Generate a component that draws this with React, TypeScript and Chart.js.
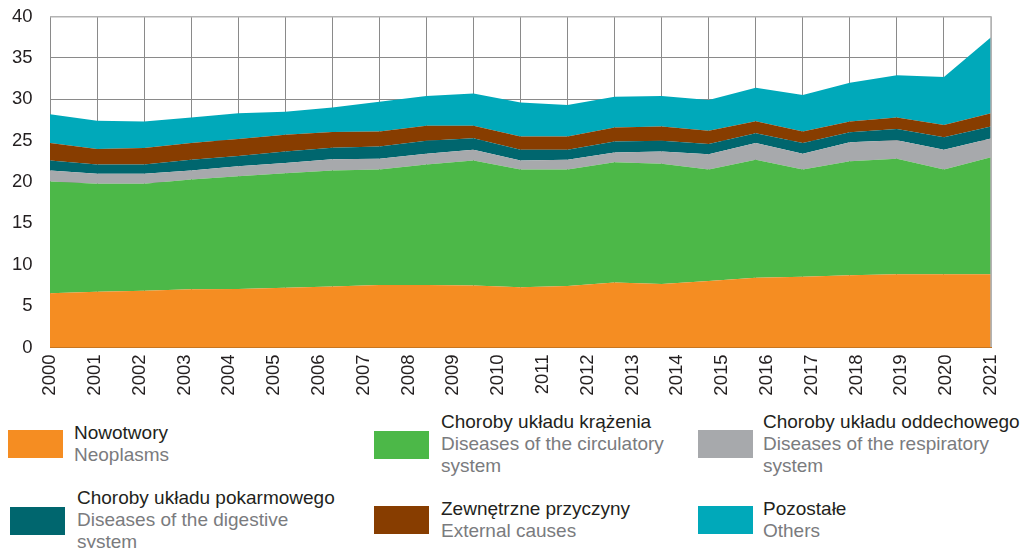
import React, { useEffect, useRef } from "react";
import { Chart, registerables } from "chart.js";

Chart.register(...registerables);

// Tick labels along the bottom axis (22 labels spread over the full axis)
const yearLabels = [
  "2000", "2001", "2002", "2003", "2004", "2005", "2006", "2007", "2008", "2009", "2010",
  "2011", "2012", "2013", "2014", "2015", "2016", "2017", "2018", "2019", "2020", "2021",
];

// Series values at the 21 nodes of the area chart (stacked, bottom to top)
const neoplasms = [6.55, 6.75, 6.87, 7.03, 7.07, 7.23, 7.38, 7.55, 7.55, 7.5, 7.28, 7.44, 7.84, 7.68, 8.04, 8.44, 8.56, 8.73, 8.85, 8.85, 8.85];
const circulatory = [13.5, 13.05, 12.93, 13.27, 13.63, 13.82, 14.02, 13.95, 14.55, 15.1, 14.22, 14.06, 14.56, 14.52, 13.46, 14.26, 12.94, 13.77, 13.95, 12.65, 14.15];
const respiratory = [1.35, 1.2, 1.2, 1.1, 1.2, 1.25, 1.35, 1.3, 1.3, 1.3, 1.1, 1.2, 1.15, 1.5, 1.85, 2.0, 1.9, 2.3, 2.25, 2.4, 2.25];
const digestive = [1.2, 1.1, 1.1, 1.3, 1.25, 1.4, 1.4, 1.5, 1.6, 1.4, 1.3, 1.2, 1.35, 1.3, 1.25, 1.2, 1.3, 1.2, 1.35, 1.5, 1.45];
const external = [2.1, 1.9, 2.0, 2.0, 2.05, 2.0, 1.88, 1.8, 1.8, 1.5, 1.6, 1.6, 1.7, 1.7, 1.6, 1.45, 1.4, 1.3, 1.4, 1.5, 1.6];
const others = [3.5, 3.4, 3.2, 3.1, 3.1, 2.8, 2.97, 3.6, 3.6, 3.9, 4.1, 3.8, 3.7, 3.7, 3.7, 4.05, 4.4, 4.7, 5.1, 5.8, 9.2];

const yTicks = [0, 5, 10, 15, 20, 25, 30, 35, 40];

const seriesNamesPl = ["Nowotwory", "Choroby układu krążenia", "Choroby układu oddechowego", "Choroby układu pokarmowego", "Zewnętrzne przyczyny", "Pozostałe"];
const seriesNamesEn = ["Neoplasms", "Diseases of the circulatory system", "Diseases of the respiratory system", "Diseases of the digestive system", "External causes", "Others"];
const seriesColors = ["#F58D22", "#4CB848", "#A7A9AC", "#00666E", "#873D00", "#00A9BA"];
const seriesValues = [neoplasms, circulatory, respiratory, digestive, external, others];

const FONT = "'Liberation Sans', Arial, Helvetica, sans-serif";

const frameBorder = {
  id: "frameBorder",
  afterDatasetsDraw(chart: any) {
    const { ctx, chartArea } = chart;
    ctx.save();
    ctx.strokeStyle = "#b3b3b3";
    ctx.lineWidth = 1.5;
    ctx.beginPath();
    ctx.moveTo(chartArea.right, chartArea.top);
    ctx.lineTo(chartArea.right, chartArea.bottom);
    ctx.stroke();
    ctx.restore();
  },
};

const zeroPad = (s: any) => {
  s.paddingTop = 0;
  s.paddingBottom = 0;
  s.paddingLeft = 0;
  s.paddingRight = 0;
};

function AreaChart() {
  const ref = useRef<HTMLCanvasElement | null>(null);
  useEffect(() => {
    if (!ref.current) return;
    const chart = new Chart(ref.current, {
      type: "line",
      data: {
        datasets: seriesValues.map((vals, k) => ({
          label: seriesNamesPl[k],
          data: vals.map((v, i) => ({ x: i, y: v })),
          backgroundColor: seriesColors[k],
          borderColor: seriesColors[k],
          borderWidth: 0,
          pointRadius: 0,
          tension: 0,
          fill: k === 0 ? "origin" : "-1",
          xAxisID: "x",
        })),
      },
      options: {
        animation: false,
        responsive: false,
        devicePixelRatio: 1,
        layout: { padding: { top: 16.5, right: 35, left: 0, bottom: 0 } },
        plugins: { legend: { display: false }, tooltip: { enabled: false } },
        scales: {
          x: {
            type: "linear",
            min: 0,
            max: seriesValues[0].length - 1,
            position: "bottom",
            ticks: { display: false, stepSize: 1 },
            grid: {
              color: (c: any) => (c.tick && c.tick.value === seriesValues[0].length - 1 ? "#b3b3b3" : "#8a8a8a"),
              lineWidth: 1,
              drawTicks: false,
            },
            border: { display: true, color: "#c87620", width: 1, z: 1 },
            afterFit: (s: any) => {
              s.height = 0;
              zeroPad(s);
            },
          },
          xLabels: {
            type: "category",
            labels: yearLabels,
            position: "bottom",
            offset: false,
            grid: { display: false, drawTicks: false },
            border: { display: false },
            ticks: {
              autoSkip: false,
              minRotation: 90,
              maxRotation: 90,
              padding: 7,
              color: "#231f20",
              font: { family: FONT, size: 18.5 },
            },
            afterFit: (s: any) => {
              s.height = 410 - 347.5;
              zeroPad(s);
            },
          },
          y: {
            stacked: true,
            min: 0,
            max: 40,
            afterBuildTicks: (s: any) => {
              s.ticks = yTicks.map((v) => ({ value: v }));
            },
            grid: {
              color: (c: any) => (c.tick && c.tick.value === 40 ? "#b3b3b3" : "#8a8a8a"),
              lineWidth: (c: any) => (c.tick && c.tick.value === 40 ? 1.5 : 1),
              drawTicks: false,
            },
            border: { display: false },
            ticks: {
              padding: 17.5,
              color: "#231f20",
              font: { family: FONT, size: 18.5 },
            },
            afterFit: (s: any) => {
              s.width = 50;
              zeroPad(s);
            },
          },
        },
      },
      plugins: [frameBorder],
    } as any);
    return () => chart.destroy();
  }, []);
  return <canvas ref={ref} width={1026} height={410} style={{ position: "absolute", left: 0, top: 0 }} />;
}

type LegendPos = { sx: number; sy: number; sw: number; sh: number; tx: number; ty: number; tw: number };

const legendLayout: LegendPos[] = [
  { sx: 8, sy: 430, sw: 55, sh: 28, tx: 74, ty: 421.5, tw: 280 },
  { sx: 374, sy: 431, sw: 55, sh: 28, tx: 441, ty: 410.5, tw: 250 },
  { sx: 698, sy: 430, sw: 55, sh: 28, tx: 763, ty: 410.5, tw: 262 },
  { sx: 10, sy: 507, sw: 55, sh: 28, tx: 77, ty: 487, tw: 262 },
  { sx: 374, sy: 506, sw: 55, sh: 28, tx: 441, ty: 497.5, tw: 250 },
  { sx: 698, sy: 506, sw: 55, sh: 28, tx: 763, ty: 497.5, tw: 262 },
];

export default function App() {
  return (
    <div
      style={{
        position: "absolute",
        left: 0,
        top: 0,
        width: 1026,
        height: 548,
        overflow: "hidden",
        background: "#ffffff",
        fontFamily: FONT,
      }}
    >
      <AreaChart />
      {legendLayout.map((p, k) => (
        <React.Fragment key={k}>
          <div
            style={{
              position: "absolute",
              left: p.sx,
              top: p.sy,
              width: p.sw,
              height: p.sh,
              background: seriesColors[k],
            }}
          />
          <div
            style={{
              position: "absolute",
              left: p.tx,
              top: p.ty,
              width: p.tw,
              fontSize: 19,
              lineHeight: "22px",
              whiteSpace: "normal",
            }}
          >
            <div style={{ color: "#231f20", whiteSpace: "nowrap" }}>{seriesNamesPl[k]}</div>
            <div style={{ color: "#7a7b7e" }}>{seriesNamesEn[k]}</div>
          </div>
        </React.Fragment>
      ))}
    </div>
  );
}
